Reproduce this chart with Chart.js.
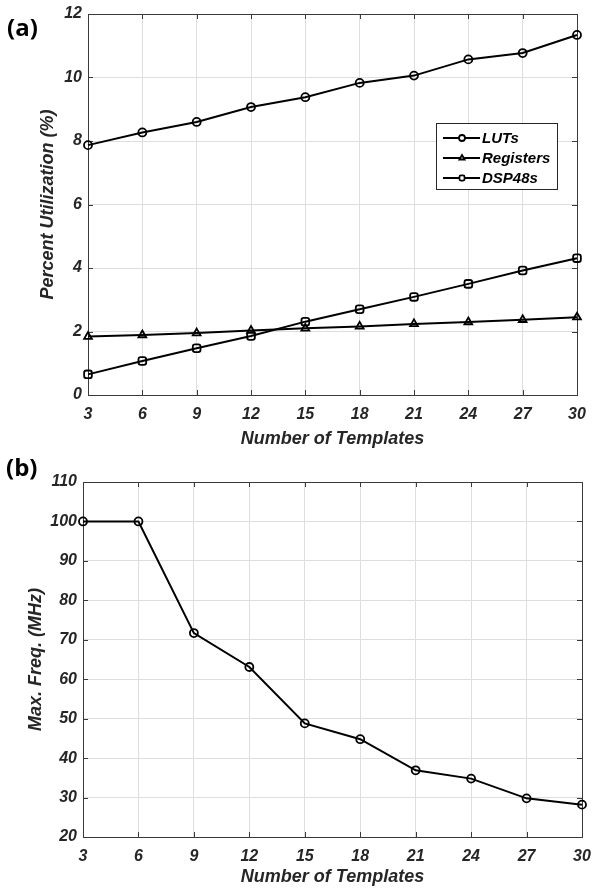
<!DOCTYPE html>
<html><head><meta charset="utf-8">
<script src="https://cdn.jsdelivr.net/npm/chart.js@4/dist/chart.umd.min.js"></script>
<style>
html,body{margin:0;padding:0;background:#fff;width:593px;height:888px;overflow:hidden}
.wrap{position:absolute;left:0;width:593px}
.panel-label{position:absolute;font-family:"Open Sans","Noto Sans",sans-serif;font-weight:700;font-size:24px;color:#000;line-height:1}
</style></head><body>
<div class="wrap" style="top:0;height:452px"><canvas id="c1" width="593" height="452"></canvas></div>
<div class="wrap" style="top:452px;height:436px"><canvas id="c2" width="593" height="436"></canvas></div>
<div class="panel-label" style="left:7px;top:15px">(a)</div>
<div class="panel-label" style="left:6px;top:455px">(b)</div>
<script>
// ---- data ----
const templates = [3, 6, 9, 12, 15, 18, 21, 24, 27, 30];
const luts      = [7.87, 8.27, 8.60, 9.07, 9.38, 9.83, 10.06, 10.57, 10.77, 11.34];
const registers = [1.84, 1.89, 1.95, 2.03, 2.10, 2.16, 2.24, 2.30, 2.37, 2.45];
const dsp48s    = [0.65, 1.07, 1.47, 1.86, 2.31, 2.70, 3.09, 3.50, 3.92, 4.31];
const maxFreq   = [100, 100, 71.7, 63.1, 48.8, 44.8, 36.9, 34.8, 29.8, 28.2];
const yTicksA   = [0, 2, 4, 6, 8, 10, 12];
const yTicksB   = [20, 30, 40, 50, 60, 70, 80, 90, 100, 110];
const seriesNamesA = ['LUTs', 'Registers', 'DSP48s'];
const xTitle = 'Number of Templates';
const yTitleA = 'Percent Utilization (%)';
const yTitleB = 'Max. Freq. (MHz)';

const FONT = '"Liberation Sans", Arial, sans-serif';
const TXT = '#262626';
const GRID = '#dedede';

const pts = vals => vals.map((v, i) => ({x: templates[i], y: v}));

const frame = {
  id: 'frame',
  beforeDatasetsDraw(chart) {
    const {ctx, chartArea: a, scales} = chart;
    ctx.save();
    ctx.strokeStyle = '#3a3a3a';
    ctx.lineWidth = 1;
    ctx.beginPath();
    scales.x.ticks.forEach(t => {
      const px = Math.round(scales.x.getPixelForValue(t.value)) + 0.5;
      ctx.moveTo(px, a.bottom); ctx.lineTo(px, a.bottom - 5);
      ctx.moveTo(px, a.top); ctx.lineTo(px, a.top + 5);
    });
    scales.y.ticks.forEach(t => {
      const py = Math.round(scales.y.getPixelForValue(t.value)) + 0.5;
      ctx.moveTo(a.left, py); ctx.lineTo(a.left + 5, py);
      ctx.moveTo(a.right, py); ctx.lineTo(a.right - 5, py);
    });
    ctx.stroke();
    ctx.strokeRect(Math.round(a.left) + 0.5, Math.round(a.top) + 0.5, Math.round(a.right - a.left), Math.round(a.bottom - a.top));
    ctx.restore();
  }
};

const legendBox = {
  id: 'legendBox',
  afterDraw(chart, args, opts) {
    if (!opts.show) return;
    const {ctx, chartArea: a} = chart;
    const w = 121, h = 66;
    const x = Math.round(a.right - 20 - w), y = Math.round(a.top + 109);
    ctx.save();
    ctx.fillStyle = '#fff';
    ctx.fillRect(x, y, w, h);
    ctx.strokeStyle = '#262626';
    ctx.lineWidth = 1;
    ctx.strokeRect(x + 0.5, y + 0.5, w, h);
    chart.data.datasets.forEach((ds, i) => {
      const cy = y + 15 + i * 20;
      ctx.strokeStyle = '#000';
      ctx.lineWidth = 2;
      ctx.beginPath(); ctx.moveTo(x + 7, cy); ctx.lineTo(x + 44, cy); ctx.stroke();
      ctx.fillStyle = '#fff';
      ctx.lineWidth = 1.8;
      Chart.helpers.drawPoint(ctx, {pointStyle: ds.pointStyle, radius: 3, rotation: 0, borderWidth: 1.8}, x + 26, cy);
      ctx.fillStyle = '#000';
      ctx.font = 'italic bold 15px ' + FONT;
      ctx.textBaseline = 'middle';
      ctx.textAlign = 'left';
      ctx.fillText(ds.label, x + 46, cy + 1);
    });
    ctx.restore();
  }
};

function ds(label, vals, style, r) {
  return {
    label, data: pts(vals), borderColor: '#000', borderWidth: 2,
    pointStyle: style, pointRadius: r, pointBorderWidth: 1.8,
    pointBorderColor: '#000', pointBackgroundColor: 'rgba(255,255,255,0)',
    pointHoverRadius: r, clip: false, tension: 0
  };
}

function makeOptions(cfg) {
  return {
    responsive: false, animation: false,
    layout: {padding: cfg.padding},
    plugins: {legend: {display: false}, tooltip: {enabled: false}, legendBox: {show: cfg.legend}},
    scales: {
      x: {
        type: 'linear', min: templates[0], max: templates[templates.length - 1],
        afterBuildTicks: s => { s.ticks = templates.map(v => ({value: v})); },
        ticks: {color: TXT, padding: 10, maxRotation: 0, callback: v => String(v),
                font: {family: FONT, size: 16, weight: 'bold', style: 'italic'}},
        grid: {color: GRID, drawTicks: false, lineWidth: 1},
        border: {display: false},
        title: {display: true, text: xTitle, color: TXT, padding: {top: 0, bottom: cfg.xTitlePad},
                font: {family: FONT, size: 18, weight: 'bold', style: 'italic'}},
        afterFit: s => { s.height = cfg.xHeight; s.paddingLeft = 0; s.paddingRight = 0; }
      },
      y: {
        type: 'linear', min: cfg.yTicks[0], max: cfg.yTicks[cfg.yTicks.length - 1],
        afterBuildTicks: s => { s.ticks = cfg.yTicks.map(v => ({value: v})); },
        ticks: {color: TXT, padding: 6, callback: v => String(v),
                font: {family: FONT, size: 16, weight: 'bold', style: 'italic'}},
        grid: {color: GRID, drawTicks: false, lineWidth: 1},
        border: {display: false},
        title: {display: true, text: cfg.yTitle, color: TXT, padding: {top: cfg.yTitlePad, bottom: 0},
                font: {family: FONT, size: 18, weight: 'bold', style: 'italic'}},
        afterFit: s => { s.width = cfg.yWidth; s.paddingTop = 0; s.paddingBottom = 0; }
      }
    }
  };
}

new Chart(document.getElementById('c1'), {
  type: 'line',
  data: {datasets: [
    ds(seriesNamesA[0], luts, 'circle', 4),
    ds(seriesNamesA[1], registers, 'triangle', 4.5),
    ds(seriesNamesA[2], dsp48s, 'rectRounded', 4.5)
  ]},
  options: makeOptions({padding: {left: 0, right: 16, top: 14, bottom: 0}, legend: true,
    yTicks: yTicksA, yTitle: yTitleA, yWidth: 88, yTitlePad: 37, xHeight: 57, xTitlePad: 2}),
  plugins: [frame, legendBox]
});

new Chart(document.getElementById('c2'), {
  type: 'line',
  data: {datasets: [ds('Max. Freq.', maxFreq, 'circle', 4)]},
  options: makeOptions({padding: {left: 0, right: 11, top: 30, bottom: 0}, legend: false,
    yTicks: yTicksB, yTitle: yTitleB, yWidth: 83, yTitlePad: 25, xHeight: 51, xTitlePad: 0}),
  plugins: [frame, legendBox]
});
</script>
</body></html>
